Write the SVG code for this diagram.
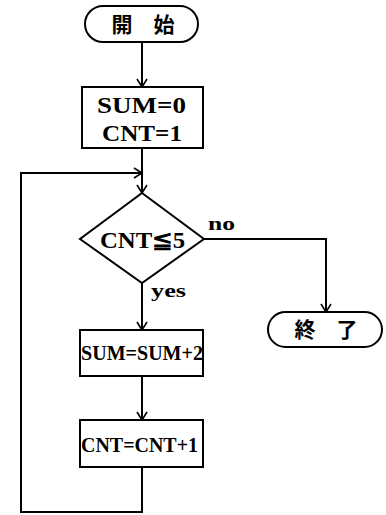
<svg xmlns="http://www.w3.org/2000/svg" width="386" height="515" viewBox="0 0 386 515">
<defs>
<marker id="arr" markerWidth="12" markerHeight="12" refX="10" refY="6" orient="auto" markerUnits="userSpaceOnUse">
<polyline points="2,1 10,6 2,11" fill="none" stroke="#000" stroke-width="1.6"/>
</marker>
<style>
.s{fill:#fff;stroke:#000;stroke-width:2}
.l{fill:none;stroke:#000;stroke-width:2}
.t{font-family:"Liberation Serif","DejaVu Serif",serif;font-weight:bold;font-size:23px;fill:#000}
.u{font-family:"Liberation Serif","DejaVu Serif",serif;font-weight:bold;font-size:21px;fill:#000}
.j{font-family:"Noto Sans CJK JP","Noto Sans CJK SC",sans-serif;font-weight:bold;font-size:21px;fill:#000;text-anchor:middle}
.lb{font-family:"Liberation Serif","DejaVu Serif",serif;font-weight:bold;font-size:19px;fill:#000}
</style>
</defs>
<g id="connectors">
<line class="l" x1="142" y1="42" x2="142" y2="87" marker-end="url(#arr)"/>
<line class="l" x1="142" y1="148" x2="142" y2="193" marker-end="url(#arr)"/>
<polyline class="l" points="142,467 142,512 21,512 21,173 142,173" marker-end="url(#arr)"/>
<line class="l" x1="142" y1="283" x2="142" y2="330" marker-end="url(#arr)"/>
<line class="l" x1="142" y1="376" x2="142" y2="420" marker-end="url(#arr)"/>
<polyline class="l" points="204,239 326,239 326,312" marker-end="url(#arr)"/>
<text class="lb" x="208" y="230" textLength="27" lengthAdjust="spacingAndGlyphs">no</text>
<text class="lb" x="151" y="297" textLength="35" lengthAdjust="spacingAndGlyphs">yes</text>
</g>
<g id="start">
<rect class="s" x="85" y="6" width="113" height="36" rx="18" ry="18"/>
<text class="j" x="143" y="32">開　始</text>
</g>
<g id="init">
<rect class="s" x="82" y="87" width="121" height="61"/>
<text class="t" x="97" y="113" textLength="89" lengthAdjust="spacingAndGlyphs">SUM=0</text>
<text class="t" x="102" y="141" textLength="80" lengthAdjust="spacingAndGlyphs">CNT=1</text>
</g>
<g id="cond">
<polygon class="s" points="142,193 204,239 142,283 80,239"/>
<text class="t" x="100" y="248" textLength="85" lengthAdjust="spacingAndGlyphs">CNT≦5</text>
</g>
<g id="sum">
<rect class="s" x="80" y="330" width="123" height="46"/>
<text class="u" x="81" y="360" textLength="122" lengthAdjust="spacingAndGlyphs">SUM=SUM+2</text>
</g>
<g id="cnt">
<rect class="s" x="80" y="420" width="123" height="47"/>
<text class="u" x="81" y="452" textLength="117" lengthAdjust="spacingAndGlyphs">CNT=CNT+1</text>
</g>
<g id="end">
<rect class="s" x="268" y="312" width="114" height="35" rx="17.5" ry="17.5"/>
<text class="j" x="326" y="337">終　了</text>
</g>
</svg>
